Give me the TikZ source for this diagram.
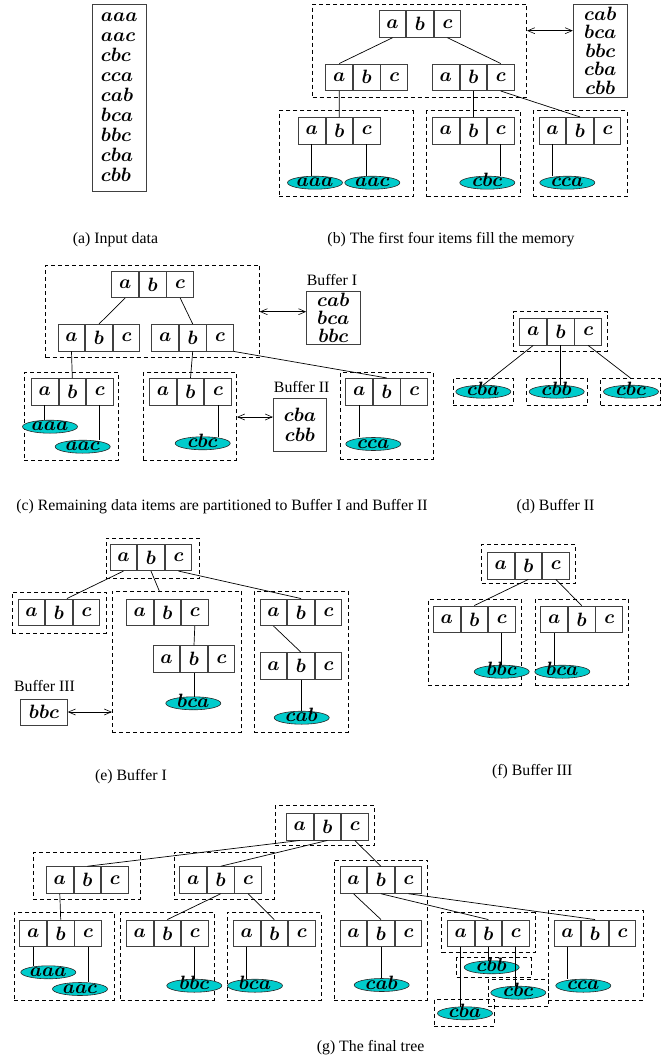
\RequirePackage{fix-cm}
\documentclass[tikz,border=0pt]{standalone}
\usepackage{amsmath,amssymb}
\usepackage{fontspec}
\setmainfont{Liberation Serif}
\usetikzlibrary{positioning,fit,arrows.meta,shapes.geometric}
\definecolor{leaf}{HTML}{00CCCC}
\newcommand{\keyfont}{\fontsize{19.3}{22}\selectfont\boldmath}

\tikzset{
  cell/.style={draw=black!75, line width=0.8pt, minimum width=26.7, minimum height=26.7,
               inner sep=0pt, font=\keyfont},
  grpbox/.style={draw, dash pattern=on 4pt off 3pt, line width=0.7pt, inner sep=0pt},
  leafnode/.style={ellipse, draw=black!85, line width=0.6pt, fill=leaf, minimum width=55,
                   minimum height=13, inner sep=0pt, text height=8.5pt, text depth=0pt,
                   font=\keyfont},
  link/.style={line width=0.7pt},
  dbl/.style={{Straight Barb[length=7pt,width=6pt]}-{Straight Barb[length=7pt,width=6pt]},
              line width=0.6pt},
  buf/.style={draw=black!75, line width=0.9pt, inner sep=0pt, align=center},
  captxt/.style={font=\fontsize{15.8}{19}\selectfont},
}

% three key cells a|b|c, #2 = centre of cell b
\newcommand{\trikey}[2]{%
  \node[cell] (#1b) at (#2) {$b$};
  \node[cell, left=0pt of #1b] (#1a) {$a$};
  \node[cell, right=0pt of #1b] (#1c) {$c$};
}
% dashed group box between two corners
\newcommand{\grp}[3]{\node[grpbox, fit={(#2) (#3)}] (#1) {};}

\begin{document}
\begin{tikzpicture}[x=1pt, y=-1pt]
\useasboundingbox (0,0) rectangle (667,1059);

% (a) input data
\node[buf, align=left, minimum width=54, minimum height=187,
      font=\fontsize{19.3}{20}\selectfont\boldmath] (aList) at (119.3,97.5)
  {$aaa$\\$aac$\\$cbc$\\$cca$\\$cab$\\$bca$\\$bbc$\\$cba$\\$cbb$};
\node[captxt] (capA) at (115.5,240) {(a) Input data};

% (b) memory full
\grp{bG0}{312.7,4}{526.7,97.3}
\grp{bG1}{279.3,110.7}{413.3,196.7}
\grp{bG2}{426.7,110.7}{520.7,196.7}
\grp{bG3}{533.3,110.7}{627.3,196.7}
\trikey{bRoot}{420,24}
\trikey{bLeft}{366.7,77.3}
\trikey{bRight}{473.3,77.3}
\trikey{bN1}{339.3,130.7}
\trikey{bN2}{473.3,130.7}
\trikey{bN3}{580,130.7}
\node[leafnode] (bAAA) at (315,182.7) {$aaa$};
\node[leafnode] (bAAC) at (372.3,182.7) {$aac$};
\node[leafnode] (bCBC) at (487.3,182.7) {$cbc$};
\node[leafnode] (bCCA) at (567.3,182.7) {$cca$};
\draw[link] (bRoota.south) -- (bLefta.north);
\draw[link] (bRootc.south) -- (bRightc.north);
\draw[link] (bLefta.south) -- (bN1b.north);
\draw[link] (bRightb.south) -- (bN2b.north);
\draw[link] (bRightc.south) -- (bN3b.north);
\draw[link] (bN1a.south) -- (bN1a.south |- bAAA.north);
\draw[link] (bN1c.south) -- (bN1c.south |- bAAC.north);
\draw[link] (bN2c.south) -- (bN2c.south |- bCBC.north);
\draw[link] (bN3a.south) -- (bN3a.south |- bCCA.north);
\node[buf, minimum width=54, minimum height=93.3,
      font=\fontsize{19.3}{18.5}\selectfont\boldmath] (bBuf) at (600.3,50.7)
  {$cab$\\$bca$\\$bbc$\\$cba$\\$cbb$};
\coordinate (bArr) at (550,30.7);
\draw[dbl] (bG0.east |- bArr) -- (bBuf.west |- bArr);
\node[captxt] (capB) at (451,240) {(b) The first four items fill the memory};

% (c) partition to buffers
\grp{cG0}{45.7,265}{259.3,357.7}
\grp{cG1}{24,372.7}{118.3,460}
\grp{cG2}{143.3,372.7}{236.7,460}
\grp{cG3}{340,372.7}{433.3,459}
\trikey{cRoot}{152.7,284.3}
\trikey{cLeft}{99,337.7}
\trikey{cRight}{192.7,337.7}
\trikey{cN1}{72.3,391.7}
\trikey{cN2}{190.5,391.7}
\trikey{cN3}{386.7,391.7}
\node[leafnode] (cAAA) at (50,426.7) {$aaa$};
\node[leafnode] (cAAC) at (82.7,446.7) {$aac$};
\node[leafnode] (cCBC) at (202.7,443.3) {$cbc$};
\node[leafnode] (cCCA) at (373.3,444) {$cca$};
\draw[link] (cRoota.south) -- (cLeftb.north);
\draw[link] (cRootc.south) -- (cRightb.north);
\draw[link] (cLefta.south) -- (cN1b.north);
\draw[link] (cRightb.south) -- (cN2b.north);
\draw[link] (cRightc.south east) -- (cN3b.north);
\draw[link] (cN1a.south) -- (cN1a.south |- cAAA.north);
\draw[link] (cN1c.south) -- (cN1c.south |- cAAC.north);
\draw[link] (cN2c.south) -- (cN2c.south |- cCBC.north);
\draw[link] (cN3a.south) -- (cN3a.south |- cCCA.north);
\node[captxt] (cLab1) at (332,280) {Buffer I};
\node[buf, minimum width=53.3, minimum height=53.3,
      font=\fontsize{19.3}{18}\selectfont\boldmath] (cBuf1) at (333.3,317.7)
  {$cab$\\$bca$\\$bbc$};
\node[captxt] (cLab2) at (301.7,387.3) {Buffer II};
\node[buf, minimum width=53.3, minimum height=53.3,
      font=\fontsize{19.3}{20}\selectfont\boldmath] (cBuf2) at (300,425)
  {$cba$\\$cbb$};
\coordinate (cArr1) at (280,311.7);
\coordinate (cArr2) at (250,417);
\draw[dbl] (cG0.east |- cArr1) -- (cBuf1.west |- cArr1);
\draw[dbl] (cG2.east |- cArr2) -- (cBuf2.west |- cArr2);
\node[captxt] (capC) at (222,506.7) {(c) Remaining data items are partitioned to Buffer I and Buffer II};

% (d) buffer II
\grp{dG0}{513.3,311.7}{607.3,351}
\grp{dG1}{453.3,378.3}{513.3,405}
\grp{dG2}{526.7,378.3}{587.3,405}
\grp{dG3}{600.7,378.3}{660,405}
\trikey{dRoot}{560.7,331.7}
\node[leafnode] (dCBA) at (483.3,391.7) {$cba$};
\node[leafnode] (dCBB) at (556.7,391.7) {$cbb$};
\node[leafnode] (dCBC) at (631,391.7) {$cbc$};
\draw[link] (dRoota.south) -- (dCBA.north);
\draw[link] (dRootb.south) -- (dRootb.south |- dCBB.north);
\draw[link] (dRootc.south) -- (dG3.north);
\node[captxt] (capD) at (555.5,506.7) {(d) Buffer II};

% (e) buffer I
\grp{eG0}{106,538.3}{199.3,578.7}
\grp{eG1}{12.3,592}{106,633.3}
\grp{eG2}{112.3,591}{241.7,732}
\grp{eG3}{254.3,591}{348.3,732}
\trikey{eRoot}{151,557.3}
\trikey{eLeft}{59,612.3}
\trikey{eMid}{167.3,612.3}
\trikey{eMidLow}{194,659}
\trikey{eRight}{301,612.3}
\trikey{eRightLow}{301,666}
\node[leafnode] (eBCA) at (193.3,703.3) {$bca$};
\node[leafnode] (eCAB) at (301.7,717.7) {$cab$};
\coordinate (eTop) at (159.3,591);
\draw[link] (eRoota.south) -- (eLeftb.60);
\draw[link] (eRootb.south) -- (eTop);
\draw[link] (eRootc.south) -- (eRightb.north);
\draw[link] (eMidc.south) -- (eMidLowb.north);
\draw[link] (eMidLowb.south) -- (eMidLowb.south |- eBCA.north);
\draw[link] (eRighta.south) -- (eRightLowb.north);
\draw[link] (eRightLowb.south) -- (eRightLowb.south |- eCAB.north);
\node[captxt] (eLab) at (44.5,685.7) {Buffer III};
\node[buf, minimum width=46.6, minimum height=26, font=\keyfont] (eBuf) at (44,712) {$bbc$};
\draw[dbl] (eBuf.east) -- (eG2.west |- eBuf.east);
\node[captxt] (capE) at (131,777) {(e) Buffer I};

% (f) buffer III
\grp{fG0}{481.7,544}{575,583.3}
\grp{fG1}{428.3,599}{521,685}
\grp{fG2}{535,599}{628.3,685}
\trikey{fRoot}{528.3,565.7}
\trikey{fLeft}{474.3,619.3}
\trikey{fRight}{581.7,619.3}
\node[leafnode] (fBBC) at (501.7,671.7) {$bbc$};
\node[leafnode] (fBCA) at (562.3,671.7) {$bca$};
\draw[link] (fRootb.south) -- (fLeftb.north);
\draw[link] (fRootc.south) -- (fRightb.north);
\draw[link] (fLeftc.south) -- (fLeftc.south |- fBBC.north);
\draw[link] (fRighta.south) -- (fRighta.south |- fBCA.north);
\node[captxt] (capF) at (532.3,772) {(f) Buffer III};

% (g) final tree
\grp{gG0}{275,805.7}{374.3,845.7}
\grp{gG1}{33.3,852.3}{140.7,899}
\grp{gG2}{174,852.3}{274.3,899}
\grp{gG3}{334.3,860}{427.7,1000}
\grp{gG4}{14,912.3}{114.3,1000}
\grp{gG5}{120.7,912.3}{214,1000}
\grp{gG6}{227.3,912.3}{321,1000}
\grp{gG7}{441.7,912.7}{535,952.7}
\grp{gG8}{548.3,910}{643.3,1000}
\grp{gG9}{456.7,957.3}{531,977.3}
\grp{gG10}{488.3,979.3}{548.3,1006.7}
\grp{gG11}{434.3,999.3}{494.3,1026}
\trikey{gRoot}{327.3,826.7}
\trikey{gL}{87.3,880}
\trikey{gM}{220.7,880}
\trikey{gR}{381,880}
\trikey{gLL}{60.7,933.3}
\trikey{gLM}{167.3,933.3}
\trikey{gLR}{274.3,933.3}
\trikey{gRL}{381,933.3}
\trikey{gRM}{488.3,933.3}
\trikey{gRR}{595,933.3}
\node[leafnode] (gAAA) at (48.3,972.3) {$aaa$};
\node[leafnode] (gAAC) at (80,989) {$aac$};
\node[leafnode] (gBBC) at (194.3,985.7) {$bbc$};
\node[leafnode] (gBCA) at (255,985.7) {$bca$};
\node[leafnode] (gCAB) at (381.7,985) {$cab$};
\node[leafnode] (gCCA) at (583.3,985.7) {$cca$};
\node[leafnode] (gCBB) at (491.7,967.3) {$cbb$};
\node[leafnode] (gCBC) at (518.3,992.7) {$cbc$};
\node[leafnode] (gCBA) at (465,1013.3) {$cba$};
\draw[link] (gRoota.south) -- (gLb.north);
\draw[link] (gRootb.south) -- (gMb.north);
\draw[link] (gRootc.south) -- (gRb.north);
\draw[link] (gLa.south) -- (gLLb.north);
\draw[link] (gMb.south) -- (gLMb.north);
\draw[link] (gMc.south) -- (gLRb.north);
\draw[link] (gRa.south) -- (gRLb.north);
\draw[link] (gRb.south) -- (gRMb.north);
\draw[link] (gRc.south) -- (gRRb.north);
\draw[link] (gLLa.south) -- (gLLa.south |- gAAA.north);
\draw[link] (gLLc.south) -- (gLLc.south |- gAAC.north);
\draw[link] (gLMc.south) -- (gLMc.south |- gBBC.north);
\draw[link] (gLRa.south) -- (gLRa.south |- gBCA.north);
\draw[link] (gRLb.south) -- (gRLb.south |- gCAB.north);
\draw[link] (gRRa.south) -- (gRRa.south |- gCCA.north);
\draw[link] (gRMa.south) -- (gRMa.south |- gCBA.north);
\draw[link] (gRMb.south) -- (gRMb.south |- gCBB.north);
\draw[link] (gRMc.south) -- (gRMc.south |- gCBC.north);
\node[captxt] (capG) at (370.6,1047.7) {(g) The final tree};
\end{tikzpicture}
\end{document}
